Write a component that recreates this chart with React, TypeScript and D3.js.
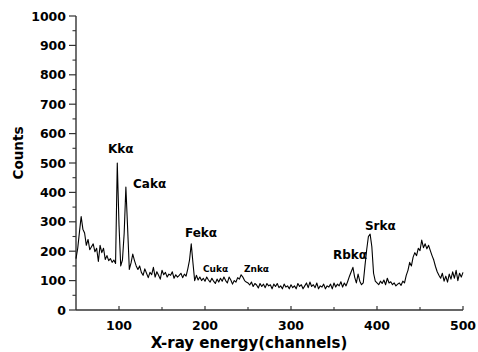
import React from "react";
import * as d3 from "d3";

const startChannel = 50;
const channelStep = 2;
const counts = [
  175, 210, 265, 318, 275, 262, 220, 240, 205, 215, 225, 198, 210, 165, 220, 195, 210, 172, 185, 168,
  175, 162, 170, 158, 500, 290, 150, 170, 260, 418, 280, 138, 160, 190, 168, 150, 138, 150, 128, 118,
  140, 125, 110, 128, 120, 145, 112, 130, 118, 105, 135, 120, 128, 112, 122, 118, 130, 108, 120, 112,
  118, 125, 110, 122, 115, 140, 170, 225, 160, 100, 118, 102, 112, 100, 108, 98, 112, 102, 95, 108,
  98, 90, 105, 95, 108, 98, 112, 100, 92, 112, 102, 88, 100, 95, 110, 105, 120, 112, 100, 95,
  92, 85, 95, 80, 90, 85, 75, 90, 80, 88, 76, 90, 82, 86, 72, 88, 80, 90, 76, 82,
  72, 88, 78, 82, 72, 86, 76, 82, 72, 90, 80, 86, 72, 82, 92, 76, 95, 80, 86, 76,
  92, 72, 82, 78, 88, 72, 82, 78, 88, 72, 92, 78, 88, 82, 96, 78, 92, 82, 98, 115,
  130, 145, 112, 92, 122, 98, 86, 92, 150, 205, 250, 258, 215, 125, 98, 92, 86, 98, 90, 102,
  86, 108, 92, 96, 86, 92, 82, 88, 92, 84, 98, 92, 118, 135, 162, 150, 180, 195, 185, 210,
  202, 238, 212, 225, 208, 220, 202, 185, 170, 148, 130, 118, 108, 125, 98, 115, 95, 122, 105, 130,
  108, 135, 100, 125, 112, 128,
];

const yMajorTicks = [0, 100, 200, 300, 400, 500, 600, 700, 800, 900, 1000];
const yMinorTicks = [50, 150, 250, 350, 450, 550, 650, 750, 850, 950];
const xMajorTicks = [100, 200, 300, 400, 500];
const xMinorTicks = [150, 250, 350, 450];

const peakNames = ["Kkα", "Cakα", "Fekα", "Cukα", "Znkα", "Rbkα", "Srkα"];
const peakLabelChannels = [87.2, 116.3, 176.7, 197.7, 245.3, 348.8, 386];
const peakLabelCounts = [534, 415, 248, 129, 129, 173, 272];
const peakSmall = [false, false, false, true, true, false, false];

const xTitle = "X-ray energy(channels)";
const yTitle = "Counts";

export default function App() {
  const W = 478;
  const H = 352;
  const x = d3.scaleLinear().domain([50, 500]).range([76, 463]);
  const y = d3.scaleLinear().domain([0, 1000]).range([310, 16]);
  const pts: [number, number][] = counts.map((c, i) => [startChannel + i * channelStep, c]);
  const line = d3
    .line<[number, number]>()
    .x((d) => x(d[0]))
    .y((d) => y(d[1]));
  const font = "'DejaVu Sans', sans-serif";
  const axisColor = "#333";
  return (
    <svg
      width={W}
      height={H}
      style={{ position: "absolute", left: 0, top: 0, background: "#fff" }}
      fontFamily={font}
    >
      <rect x={0} y={0} width={W} height={H} fill="#fff" />
      <line x1={x(50)} x2={x(50)} y1={y(0)} y2={y(1000)} stroke={axisColor} strokeWidth={1.4} />
      <line x1={x(50)} x2={x(500)} y1={y(0)} y2={y(0)} stroke={axisColor} strokeWidth={1.4} />
      {yMajorTicks.map((t) => (
        <g key={"ym" + t}>
          <line x1={x(50) - 7} x2={x(50)} y1={y(t)} y2={y(t)} stroke={axisColor} strokeWidth={1.2} />
          <text
            x={x(50) - 10}
            y={y(t) + 4.5}
            textAnchor="end"
            fontSize={12.5}
            fontWeight="bold"
            fill="#000"
          >
            {t}
          </text>
        </g>
      ))}
      {yMinorTicks.map((t) => (
        <line key={"yn" + t} x1={x(50) - 3.5} x2={x(50)} y1={y(t)} y2={y(t)} stroke={axisColor} strokeWidth={1.1} />
      ))}
      {xMajorTicks.map((t) => (
        <g key={"xm" + t}>
          <line x1={x(t)} x2={x(t)} y1={y(0)} y2={y(0) - 4} stroke={axisColor} strokeWidth={1.2} />
          <text x={x(t)} y={330} textAnchor="middle" fontSize={12.5} fontWeight="bold" fill="#000">
            {t}
          </text>
        </g>
      ))}
      {xMinorTicks.map((t) => (
        <line key={"xn" + t} x1={x(t)} x2={x(t)} y1={y(0)} y2={y(0) - 3} stroke={axisColor} strokeWidth={1.1} />
      ))}
      <text x={249} y={347.5} textAnchor="middle" fontSize={15} fontWeight="bold" fill="#000">
        {xTitle}
      </text>
      <text
        transform={`translate(23,153) rotate(-90)`}
        textAnchor="middle"
        fontSize={13.5}
        fontWeight="bold"
        fill="#000"
      >
        {yTitle}
      </text>
      <path d={line(pts) || ""} fill="none" stroke="#000" strokeWidth={1.1} strokeLinejoin="round" />
      {peakNames.map((n, i) => (
        <text
          key={n}
          x={x(peakLabelChannels[i])}
          y={y(peakLabelCounts[i])}
          fontSize={peakSmall[i] ? 9 : 12}
          fontWeight="bold"
          fill="#000"
        >
          {n}
        </text>
      ))}
    </svg>
  );
}
